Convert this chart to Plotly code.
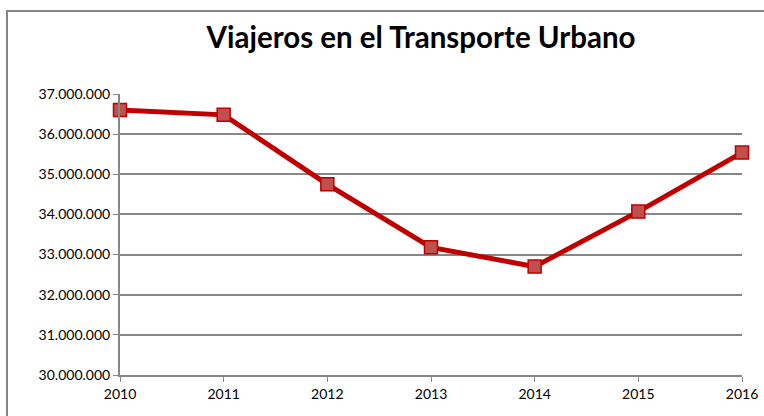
import plotly.graph_objects as go

years = [2010, 2011, 2012, 2013, 2014, 2015, 2016]
viajeros = [36600000, 36480000, 34750000, 33180000, 32700000, 34070000, 35540000]
y_ticks = [30000000, 31000000, 32000000, 33000000, 34000000, 35000000, 36000000, 37000000]

fig = go.Figure()
fig.add_trace(go.Scatter(
    x=years, y=viajeros, mode="lines+markers",
    line=dict(color="#C00000", width=5),
    marker=dict(symbol="square", size=13, color="#C0504D",
                line=dict(color="#C00000", width=1.5)),
    cliponaxis=False, showlegend=False,
))

font_family = "Lato, 'Open Sans', sans-serif"
fig.update_layout(
    width=764, height=416,
    margin=dict(l=120, r=22, t=94, b=41, autoexpand=False),
    paper_bgcolor="white", plot_bgcolor="white",
    separators=",.",
    title=dict(text="<b>Viajeros en el Transporte Urbano</b>",
               x=421 / 764, xanchor="center", y=1 - 38 / 416, yanchor="middle",
               font=dict(family=font_family, size=29.5, color="black")),
    xaxis=dict(range=[2010, 2016], tickvals=years, ticktext=[str(y) for y in years],
               showgrid=False, showline=True, linecolor="#868686", linewidth=2,
               ticks="outside", ticklen=5, tickcolor="#868686", automargin=False,
               tickfont=dict(family=font_family, size=14, color="black"), zeroline=False),
    yaxis=dict(range=[30000000, 37000000], tickvals=y_ticks, tickformat=",d",
               showgrid=True, gridcolor="#868686", gridwidth=1.5,
               showline=True, linecolor="#868686", linewidth=2,
               ticks="outside", ticklen=5, tickcolor="#868686", automargin=False,
               tickfont=dict(family=font_family, size=14, color="black"), zeroline=False),
    shapes=[dict(type="rect", xref="paper", yref="paper",
                 x0=(7 - 120) / 622, x1=(770 - 120) / 622,
                 y0=(375 - 420) / 281, y1=(375 - 11) / 281,
                 line=dict(color="#868686", width=2), fillcolor="rgba(0,0,0,0)",
                 layer="below")],
)

fig.write_html("out.html", config={"displayModeBar": False},
               post_script="document.body.style.margin='0';document.body.style.overflow='hidden';")
